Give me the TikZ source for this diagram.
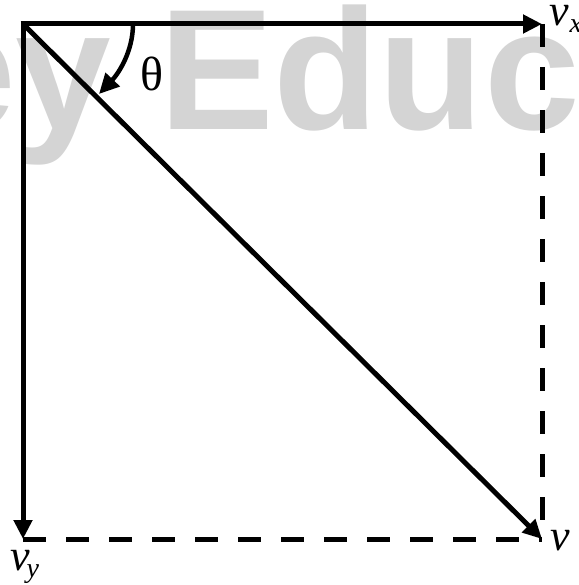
\documentclass[tikz,border=0pt]{standalone}
\usepackage{fontspec}
\setmainfont{Liberation Serif}
\newfontfamily\wmfont{Liberation Sans Bold}
\newfontfamily\lblit{Liberation Serif Italic}
\usetikzlibrary{arrows.meta}
\definecolor{wmgray}{RGB}{212,212,212}
\newcommand{\vsub}[2]{\lblit v\kern#2\raisebox{-7pt}{\fontsize{28}{28}\selectfont\lblit #1}}
\begin{document}
\begin{tikzpicture}[x=1pt,y=-1pt,
  vec/.style={line width=5pt, -{Triangle[length=19pt,width=18pt]}},
  dashline/.style={line width=5pt, dash pattern=on 23pt off 20pt},
  lbl/.style={inner sep=0pt, font=\fontsize{44}{44}\selectfont}]
\useasboundingbox (0,0) rectangle (578,585);
\node[anchor=base east, inner sep=0pt, text=wmgray, font=\wmfont\fontsize{172}{172}\selectfont] (wm) at (580,130) {ey Educ};
\coordinate (O) at (23,24);
\coordinate (X) at (542,24);
\coordinate (Y) at (23,539);
\coordinate (V) at (542,539);
\coordinate (A1) at (133,24);
\coordinate (A2) at (99,94);
\draw[dashline] (X) -- (V);
\draw[dashline] (Y) -- (V);
\draw[vec, shorten <=-2.5pt] (O) -- (X);
\draw[vec, shorten <=-2.5pt] (O) -- (Y);
\draw[vec] (O) -- (V);
\draw[line width=4.5pt, -{Triangle[length=20pt,width=19pt]}] (A1) .. controls (133,52) and (118,74) .. (A2);
\node[inner sep=0pt, font=\fontsize{48}{48}\selectfont] (theta) at (152,74) {θ};
\node[lbl, anchor=base west] (vx) at (549,26) {\vsub{x}{1pt}};
\node[lbl, anchor=base west] (vy) at (10,570) {\vsub{y}{-3pt}};
\node[lbl, anchor=base west] (v) at (550,550) {\lblit v};
\end{tikzpicture}
\end{document}
